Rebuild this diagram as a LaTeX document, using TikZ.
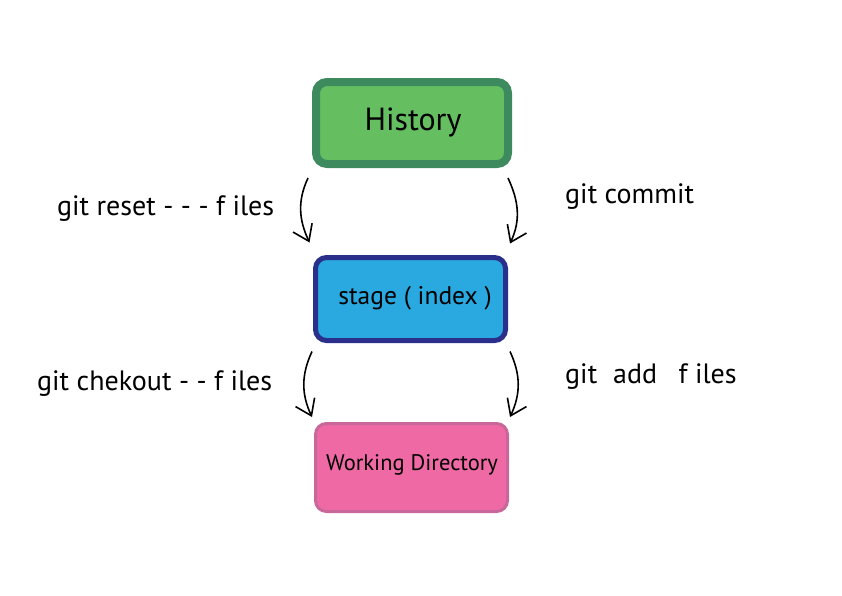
\documentclass[tikz,border=0pt]{standalone}
\usepackage{fontspec}
\setmainfont{PT Sans}
\usetikzlibrary{arrows.meta}
\definecolor{histfill}{HTML}{65BE5F}
\definecolor{histedge}{HTML}{3D8A5F}
\definecolor{stagefill}{HTML}{2AA8E0}
\definecolor{stageedge}{HTML}{2B2F8C}
\definecolor{workfill}{HTML}{EF6AA5}
\definecolor{workedge}{HTML}{C8689A}
\tikzset{
  box/.style={rounded corners=11pt, inner sep=0pt, outer sep=0pt, anchor=north west},
  flow/.style={line width=1.6pt, -{Straight Barb[length=15pt,width=21pt,line width=1.6pt]}},
  cmd/.style={anchor=base west, inner sep=0pt, font=\fontsize{28}{33}\selectfont}
}
\begin{document}
\begin{tikzpicture}[x=1pt,y=-1pt]
\useasboundingbox (0,0) rectangle (842,595);
% the three areas of a repository
\node[box, draw=histedge, fill=histfill, line width=8pt,
      minimum width=192pt, minimum height=82pt] (hist) at (316,82) {};
\node[font=\fontsize{32}{38}\selectfont] (histtext) at (413,122) {History};
\node[box, draw=stageedge, fill=stagefill, line width=5pt,
      minimum width=190pt, minimum height=83pt] (stage) at (315.5,257.5) {};
\node[font=\fontsize{25.5}{30}\selectfont] (stagetext) at (415,298) {stage ( index )};
\node[box, draw=workedge, fill=workfill, line width=3pt,
      minimum width=192pt, minimum height=88pt] (work) at (315.5,423.5) {};
\node[font=\fontsize{22.5}{27}\selectfont] (worktext) at (412,465) {Working Directory};
% commands moving files between them
\draw[flow] ([xshift=-8pt,yshift=-14pt]hist.south west) to[out=245,in=115] ([xshift=-6pt,yshift=15pt]stage.north west);
\draw[flow] ([xshift=0pt,yshift=-14pt]hist.south east) to[out=-65,in=65] ([xshift=4.5pt,yshift=14pt]stage.north east);
\draw[flow] ([xshift=-3.5pt,yshift=-11pt]stage.south west) to[out=245,in=115] ([xshift=-3.5pt,yshift=6.5pt]work.north west);
\draw[flow] ([xshift=4.5pt,yshift=-11pt]stage.south east) to[out=-65,in=65] ([xshift=2.5pt,yshift=6.5pt]work.north east);
\node[cmd] (reset) at (57,215) {git reset - - - f iles};
\node[cmd] (checkout) at (37,390) {git chekout - - f iles};
\node[cmd] (commit) at (565,203) {git commit};
\node[cmd] (add) at (565,383) {git\hspace{0.3em} add\hspace{0.5em} f iles};
\end{tikzpicture}
\end{document}
